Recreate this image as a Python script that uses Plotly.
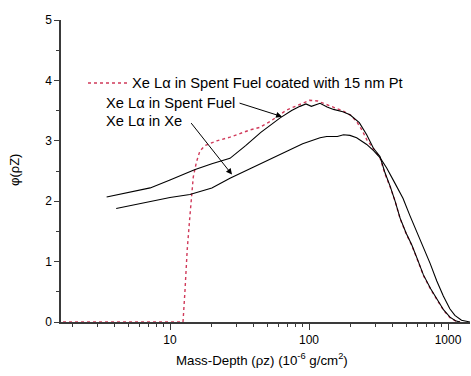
import plotly.graph_objects as go

# Spent fuel (solid, upper)
sf_x = [3.5, 5, 7.2, 10, 15, 20, 27, 35, 45, 62, 75, 86, 95, 104, 112, 120, 135, 150, 175, 197,
        230, 260, 290, 324, 352, 383, 416, 452, 500, 548, 600, 665, 750, 830, 930, 1033, 1130, 1220]
sf_y = [2.07, 2.14, 2.22, 2.35, 2.52, 2.62, 2.71, 2.92, 3.14, 3.38, 3.50, 3.57, 3.61, 3.57, 3.60,
        3.62, 3.56, 3.52, 3.48, 3.43, 3.30, 3.10, 2.88, 2.74, 2.47, 2.25, 2.00, 1.72, 1.47, 1.28,
        1.05, 0.78, 0.55, 0.38, 0.20, 0.08, 0.02, 0.0]

# Xe (solid, lower)
xe_x = [4.1, 7.2, 10, 13.9, 20, 27, 40, 62, 90, 120, 134, 160, 177, 197, 220, 260, 290, 324,
        362, 410, 474, 530, 596, 665, 743, 830, 925, 1030, 1120, 1250, 1440]
xe_y = [1.88, 2.00, 2.06, 2.11, 2.22, 2.38, 2.57, 2.77, 2.95, 3.05, 3.07, 3.07, 3.10, 3.09, 3.05,
        2.94, 2.84, 2.72, 2.55, 2.32, 2.05, 1.77, 1.50, 1.24, 0.97, 0.68, 0.43, 0.22, 0.11, 0.03, 0.0]

# Spent fuel coated with 15 nm Pt (red dotted)
pt_x = [1.7, 5, 10, 12.4, 12.8, 13.3, 13.9, 14.7, 15.5, 16.4, 17.8, 21.7, 27, 37.6, 44, 52.5, 69,
        85, 101, 115, 134, 155, 177, 200, 220, 240, 260, 306, 324, 352, 383, 416, 452, 500, 548,
        600, 665, 750, 830, 930, 1033, 1130, 1220]
pt_y = [0.0, 0.0, 0.0, 0.0, 0.5, 1.2, 1.75, 2.40, 2.65, 2.83, 2.92, 3.00, 3.06, 3.18, 3.22, 3.32,
        3.51, 3.60, 3.67, 3.66, 3.60, 3.55, 3.49, 3.42, 3.32, 3.18, 3.02, 2.80, 2.72, 2.45, 2.24,
        2.00, 1.71, 1.46, 1.27, 1.04, 0.77, 0.54, 0.37, 0.19, 0.07, 0.02, 0.0]

x_major = [10, 100, 1000]
x_major_text = ["10", "100", "1000"]
x_minor = [2, 3, 4, 5, 6, 7, 8, 9, 20, 30, 40, 50, 60, 70, 80, 90, 200, 300, 400, 500, 600, 700, 800, 900]
y_major = [0, 1, 2, 3, 4, 5]

label_pt = "Xe L\u03b1 in Spent Fuel coated with 15 nm Pt"
label_sf = "Xe L\u03b1 in Spent Fuel"
label_xe = "Xe L\u03b1 in Xe"

FONT = "Liberation Sans, Arial, sans-serif"
AX = "#3a3a3a"
RED = "#d03a5a"
LSIZE = 14.7

fig = go.Figure()
fig.add_trace(go.Scatter(x=pt_x, y=pt_y, mode="lines", name=label_pt,
                         line=dict(color=RED, width=1.4, dash="dot"), showlegend=False))
fig.add_trace(go.Scatter(x=sf_x, y=sf_y, mode="lines", name=label_sf,
                         line=dict(color="black", width=1.1), showlegend=False))
fig.add_trace(go.Scatter(x=xe_x, y=xe_y, mode="lines", name=label_xe,
                         line=dict(color="black", width=1.1), showlegend=False))

W, H = 471, 376
L, R, T, B = 61, 1, 20, 54
pw, ph = W - L - R, H - T - B

def px(xp):
    return (xp - L) / pw

def py(yp):
    return (H - B - yp) / ph

annotations = [
    dict(text=label_pt, x=px(130), y=py(83), xref="paper", yref="paper", xanchor="left",
         yanchor="middle", showarrow=False, font=dict(size=LSIZE, color="black", family=FONT)),
    dict(text=label_sf, x=px(104), y=py(103), xref="paper", yref="paper", xanchor="left",
         yanchor="middle", showarrow=False, font=dict(size=LSIZE, color="black", family=FONT)),
    dict(text=label_xe, x=px(104), y=py(121), xref="paper", yref="paper", xanchor="left",
         yanchor="middle", showarrow=False, font=dict(size=LSIZE, color="black", family=FONT)),
    # arrows
    dict(text="", x=1.806, y=3.40, xref="x", yref="y", ax=-44, ay=-14, axref="pixel", ayref="pixel",
         showarrow=True, arrowhead=2, arrowsize=1.2, arrowwidth=1, arrowcolor="black"),
    dict(text="", x=1.446, y=2.44, xref="x", yref="y", ax=-42, ay=-53, axref="pixel", ayref="pixel",
         showarrow=True, arrowhead=2, arrowsize=1.2, arrowwidth=1, arrowcolor="black"),
    # axis titles
    dict(text="Mass-Depth (\u03c1z) (10<sup>-6</sup> g/cm<sup>2</sup>)", x=px(262), y=py(359),
         xref="paper", yref="paper", xanchor="center", yanchor="middle", showarrow=False,
         font=dict(size=13.3, color="black", family=FONT)),
    dict(text="\u03c6(\u03c1Z)", x=px(14), y=py(170), xref="paper", yref="paper", xanchor="center",
         yanchor="middle", showarrow=False, textangle=-90,
         font=dict(size=13, color="black", family=FONT)),
]

shapes = [
    dict(type="line", xref="paper", yref="paper", x0=px(88), x1=px(127), y0=py(83), y1=py(83),
         line=dict(color=RED, width=1.4, dash="dot")),
]

fig.update_layout(
    width=W, height=H,
    margin=dict(l=L, r=R, t=T, b=B, pad=0),
    paper_bgcolor="white", plot_bgcolor="white",
    font=dict(family=FONT, size=12, color="black"),
    showlegend=False,
    annotations=annotations,
    shapes=shapes,
    xaxis=dict(type="log", range=[0.2158, 3.158], showgrid=False, zeroline=False,
               showline=True, linecolor=AX, linewidth=1.5, mirror=False,
               tickmode="array", tickvals=x_major, ticktext=x_major_text,
               ticks="outside", ticklen=6, tickwidth=1.2, tickcolor=AX,
               tickfont=dict(size=12, family=FONT, color="black"),
               minor=dict(tickmode="array", tickvals=x_minor, ticks="outside", ticklen=3,
                          tickwidth=1, tickcolor=AX, showgrid=False)),
    yaxis=dict(range=[0, 5], showgrid=False, zeroline=False,
               showline=True, linecolor=AX, linewidth=1.5,
               tickmode="array", tickvals=y_major,
               ticks="outside", ticklen=5, tickwidth=1.2, tickcolor=AX,
               tickfont=dict(size=12, family=FONT, color="black"),
               minor=dict(dtick=0.5, ticks="outside", ticklen=3, tickwidth=1, tickcolor=AX,
                          showgrid=False)),
)

fig.write_html("out.html")
